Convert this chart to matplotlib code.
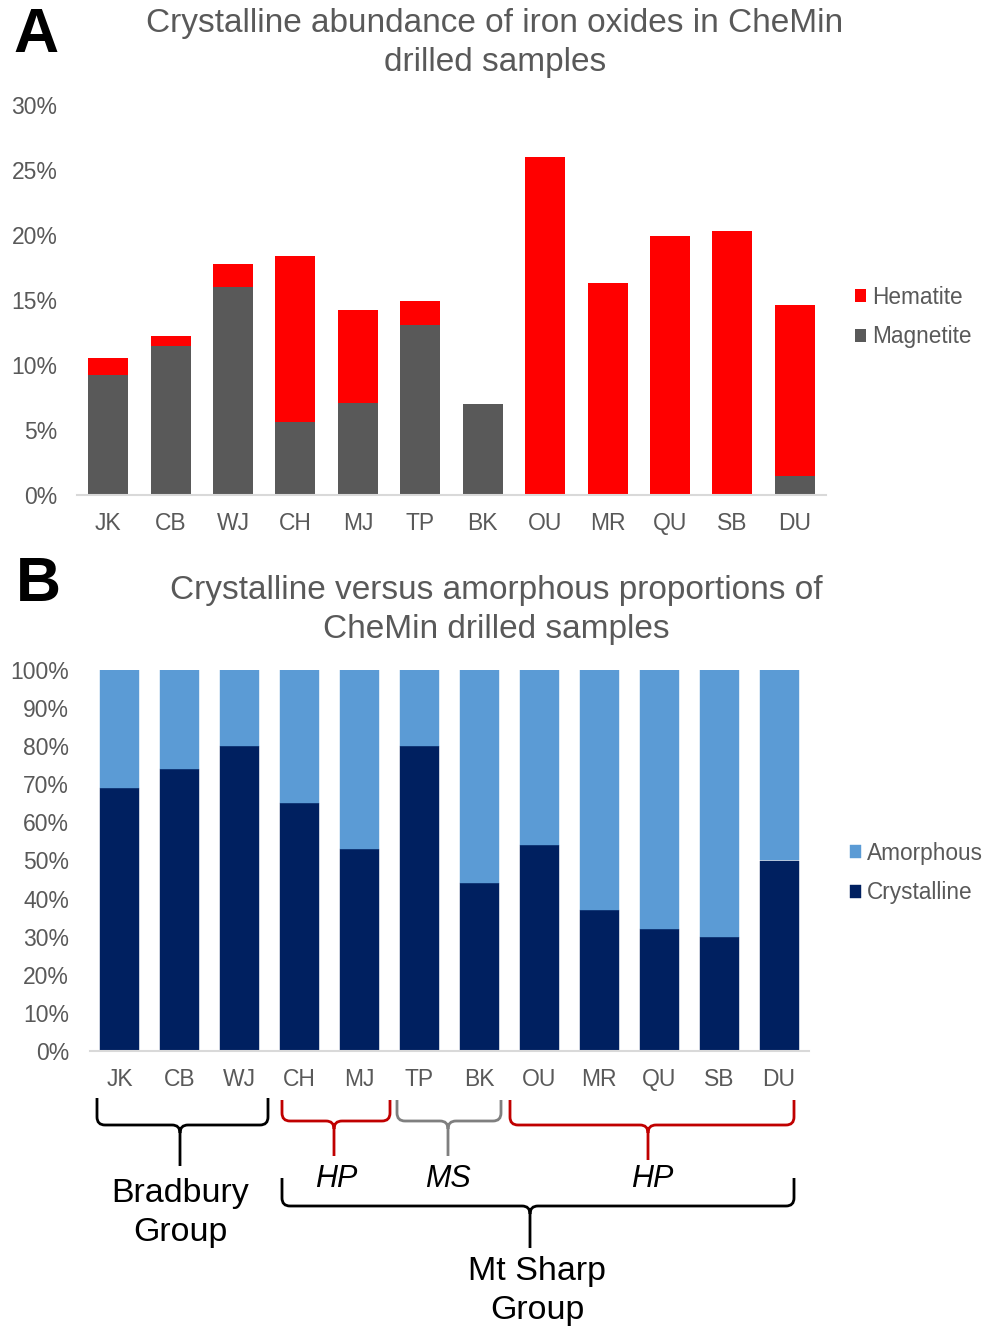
import matplotlib
matplotlib.use("Agg")
import matplotlib.pyplot as plt
from matplotlib.path import Path
from matplotlib.patches import PathPatch
from matplotlib.ticker import PercentFormatter
import numpy as np

plt.rcParams['font.family'] = ['Liberation Sans', 'DejaVu Sans']

# Datos
samples = ['JK', 'CB', 'WJ', 'CH', 'MJ', 'TP', 'BK', 'OU', 'MR', 'QU', 'SB', 'DU']
magnetite = [9.2, 11.5, 16.0, 5.6, 7.1, 13.1, 7.0, 0.0, 0.0, 0.0, 0.0, 1.5]
hematite = [1.3, 0.7, 1.8, 12.8, 7.1, 1.8, 0.0, 26.0, 16.3, 19.9, 20.3, 13.1]
crystalline = [69, 74, 80, 65, 53, 80, 44, 54, 37, 32, 30, 50]
amorphous = [100 - c for c in crystalline]

W, H = 994, 1327
GRAY = '#595959'
fig = plt.figure(figsize=(W / 100, H / 100), dpi=100)


def px(x, y):
    # pixel -> figure coordinates
    return x / W, 1 - y / H


def style_axis(ax, pad_y):
    for s in ['top', 'right', 'left']:
        ax.spines[s].set_visible(False)
    ax.spines['bottom'].set_color('#D9D9D9')
    ax.spines['bottom'].set_linewidth(1.5)
    ax.tick_params(axis='both', length=0, labelsize=16.5, colors=GRAY)
    ax.tick_params(axis='y', pad=pad_y)
    ax.tick_params(axis='x', pad=12.5)
    ax.yaxis.set_major_formatter(PercentFormatter(decimals=0))


def add_legend(ax, xy):
    h, l = ax.get_legend_handles_labels()
    fig.legend(h[::-1], l[::-1], loc='center left', bbox_to_anchor=px(*xy),
               frameon=False, fontsize=16.3, labelcolor=GRAY, handlelength=0.5,
               handleheight=0.5, handletextpad=0.25, labelspacing=0.75,
               borderpad=0, borderaxespad=0)


x = np.arange(len(samples))

# Panel A
axA = fig.add_axes([77 / W, 1 - 495 / H, 749 / W, 390 / H])
axA.bar(x, magnetite, width=0.64, color='#595959', lw=0, label='Magnetite')
axA.bar(x, hematite, width=0.64, bottom=magnetite, color='#FF0000', lw=0, label='Hematite')
axA.set_xlim(-0.5, len(samples) - 0.5)
axA.set_ylim(0, 30)
axA.set_yticks(range(0, 31, 5))
axA.set_xticks(x)
axA.set_xticklabels(samples)
style_axis(axA, 14)
add_legend(axA, (855, 317))
fig.text(*px(495, 43), 'Crystalline abundance of iron oxides in CheMin\ndrilled samples',
         ha='center', va='center', fontsize=24, color=GRAY, linespacing=1.35)
fig.text(*px(36, 35), 'A', ha='center', va='center', fontsize=45, fontweight='bold')

# Panel B
axB = fig.add_axes([90 / W, 1 - 1051 / H, 719 / W, 381 / H])
axB.bar(x, crystalline, width=0.65, color='#002060', edgecolor='#002060', lw=0.3, label='Crystalline')
axB.bar(x, amorphous, width=0.65, bottom=crystalline, color='#5B9BD5', edgecolor='#5B9BD5', lw=0.3,
        label='Amorphous')
axB.set_xlim(-0.5, len(samples) - 0.5)
axB.set_ylim(0, 100)
axB.set_yticks(range(0, 101, 10))
axB.set_xticks(x)
axB.set_xticklabels(samples)
style_axis(axB, 15)
add_legend(axB, (850, 873))
fig.text(*px(496, 610), 'Crystalline versus amorphous proportions of\nCheMin drilled samples',
         ha='center', va='center', fontsize=24, color=GRAY, linespacing=1.35)
fig.text(*px(38, 585), 'B', ha='center', va='center', fontsize=45, fontweight='bold')


# Braces below panel B
def brace(x0, x1, xc, ytop, ymid, ytip, color):
    r = 8
    verts = [(x0, ytop), (x0, ymid - r), (x0, ymid), (x0 + r, ymid),
             (xc - r, ymid), (xc, ymid), (xc, ymid + r), (xc, ytip),
             (xc, ymid + r), (xc, ymid), (xc + r, ymid),
             (x1 - r, ymid), (x1, ymid), (x1, ymid - r), (x1, ytop)]
    codes = [Path.MOVETO, Path.LINETO, Path.CURVE3, Path.CURVE3,
             Path.LINETO, Path.CURVE3, Path.CURVE3, Path.LINETO,
             Path.MOVETO, Path.CURVE3, Path.CURVE3,
             Path.LINETO, Path.CURVE3, Path.CURVE3, Path.LINETO]
    verts = [px(a, b) for a, b in verts]
    patch = PathPatch(Path(verts, codes), fill=False, edgecolor=color, lw=2,
                      transform=fig.transFigure, capstyle='butt')
    fig.add_artist(patch)


brace(97, 268, 180, 1098, 1125, 1166, 'black')
brace(282, 390, 334, 1100, 1121, 1156, '#C00000')
brace(397, 501, 448, 1100, 1121, 1156, '#7F7F7F')
brace(510, 794, 648, 1100, 1125, 1160, '#C00000')
brace(282, 794, 530, 1178, 1206, 1248, 'black')

fig.text(*px(180, 1213), 'Bradbury\nGroup', ha='center', va='center', fontsize=24.5, linespacing=1.35)
fig.text(*px(336, 1179), 'HP', ha='center', va='center', fontsize=22, style='italic')
fig.text(*px(448, 1179), 'MS', ha='center', va='center', fontsize=22, style='italic')
fig.text(*px(652, 1179), 'HP', ha='center', va='center', fontsize=22, style='italic')
fig.text(*px(537, 1291), 'Mt Sharp\nGroup', ha='center', va='center', fontsize=24.5, linespacing=1.35)

fig.savefig('out.png', dpi=100)
